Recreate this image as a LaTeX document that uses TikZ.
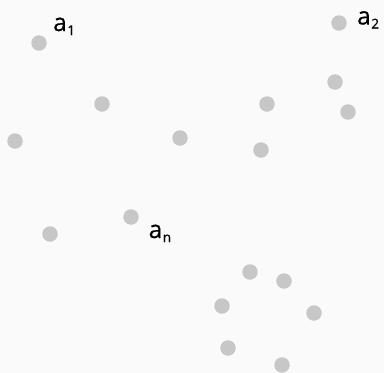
\documentclass[tikz,border=0pt]{standalone}
\usepackage{fontspec}
\setmainfont{Open Sans}
\newfontfamily\lblfont[FakeBold=0.6]{Open Sans}
\newcommand{\subs}[1]{\hspace{0.5pt}\raisebox{-4pt}{\fontsize{13.5}{14}\selectfont #1}}
\begin{document}
\begin{tikzpicture}[x=1pt,y=-1pt,
  dot/.style={circle,fill=black!22,inner sep=0pt,minimum size=15.5pt},
  lbl/.style={inner sep=0pt,font=\lblfont\fontsize{24.5}{27}\selectfont,text=black}]
\fill[white!98!black] (0,0) rectangle (384,373);
\useasboundingbox (0,0) rectangle (384,373);
\node[dot] (d1) at (39,43) {};
\node[dot] (d2) at (339,23) {};
\node[dot] (d3) at (102,104) {};
\node[dot] (d4) at (15,141) {};
\node[dot] (d5) at (180,138) {};
\node[dot] (d6) at (267,104) {};
\node[dot] (d7) at (261,150) {};
\node[dot] (d8) at (335,82) {};
\node[dot] (d9) at (348,112) {};
\node[dot] (d10) at (131,217) {};
\node[dot] (d11) at (50,234) {};
\node[dot] (d12) at (250,272) {};
\node[dot] (d13) at (284,281) {};
\node[dot] (d14) at (222,306) {};
\node[dot] (d15) at (314,313) {};
\node[dot] (d16) at (228,348) {};
\node[dot] (d17) at (282,365) {};
\node[lbl,anchor=base west] (l1) at (53,31) {a\subs{1}};
\node[lbl,anchor=base west] (l2) at (357,24.5) {a\subs{2}};
\node[lbl,anchor=base west] (ln) at (148.5,238) {a\subs{n}};
\end{tikzpicture}
\end{document}
